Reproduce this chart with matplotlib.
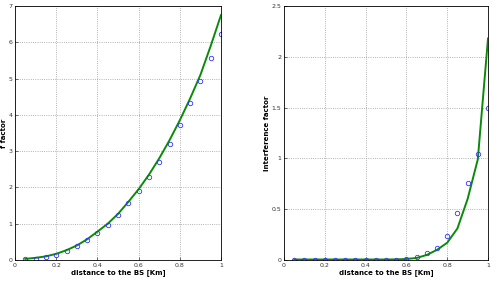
import numpy as np
import matplotlib.pyplot as plt

x = np.arange(1, 21) * 0.05

f_points = [0.02, 0.03, 0.08, 0.15, 0.25, 0.385, 0.55, 0.75, 0.97, 1.24,
            1.56, 1.9, 2.28, 2.71, 3.2, 3.73, 4.33, 4.93, 5.56, 6.24]
f_line = [0.03, 0.06, 0.1, 0.17, 0.27, 0.4, 0.57, 0.78, 1.0, 1.27,
          1.6, 1.95, 2.35, 2.8, 3.3, 3.85, 4.45, 5.1, 5.9, 6.75]

i_points = [0.003, 0.003, 0.003, 0.003, 0.003, 0.003, 0.003, 0.003, 0.003, 0.003,
            0.004, 0.01, 0.027, 0.065, 0.12, 0.235, 0.46, 0.76, 1.04, 1.5]
i_line = [0.005, 0.005, 0.005, 0.005, 0.005, 0.005, 0.005, 0.005, 0.005, 0.005,
          0.006, 0.01, 0.02, 0.05, 0.1, 0.17, 0.31, 0.6, 0.99, 2.18]

fig = plt.figure(figsize=(4.98, 2.84), dpi=100)
ax1 = fig.add_axes([15/498, 24/284, 206/498, 254/284])
ax2 = fig.add_axes([284/498, 24/284, 204/498, 254/284])

panels = [
    (ax1, f_points, f_line, 7, np.arange(0, 8, 1), "f factor"),
    (ax2, i_points, i_line, 2.5, np.arange(0, 3, 0.5), "Interference factor"),
]

for ax, pts, line, ymax, yt, ylab in panels:
    ax.plot(x, line, color="#0a8a0a", lw=1.4)
    ax.plot(x, pts, "o", mfc="none", mec="#3333ff", ms=3.2, mew=0.6)
    ax.set_xlim(0, 1)
    ax.set_ylim(0, ymax)
    ax.set_xticks(np.arange(0, 1.01, 0.2))
    ax.set_xticklabels(["0", "0.2", "0.4", "0.6", "0.8", "1"])
    ax.set_yticks(yt)
    ax.set_yticklabels(["%g" % v for v in yt])
    ax.grid(True, linestyle=":", color="#999999", lw=0.6)
    ax.tick_params(labelsize=4.5, length=2, width=0.5, direction="in", pad=2,
                   colors="#333333")
    for s in ax.spines.values():
        s.set_linewidth(0.6)
    ax.set_xlabel("distance to the BS [Km]", fontsize=5, fontweight="bold", labelpad=1)
    ax.set_ylabel(ylab, fontsize=5, fontweight="bold", labelpad=1)

fig.savefig("out.png", dpi=100)
